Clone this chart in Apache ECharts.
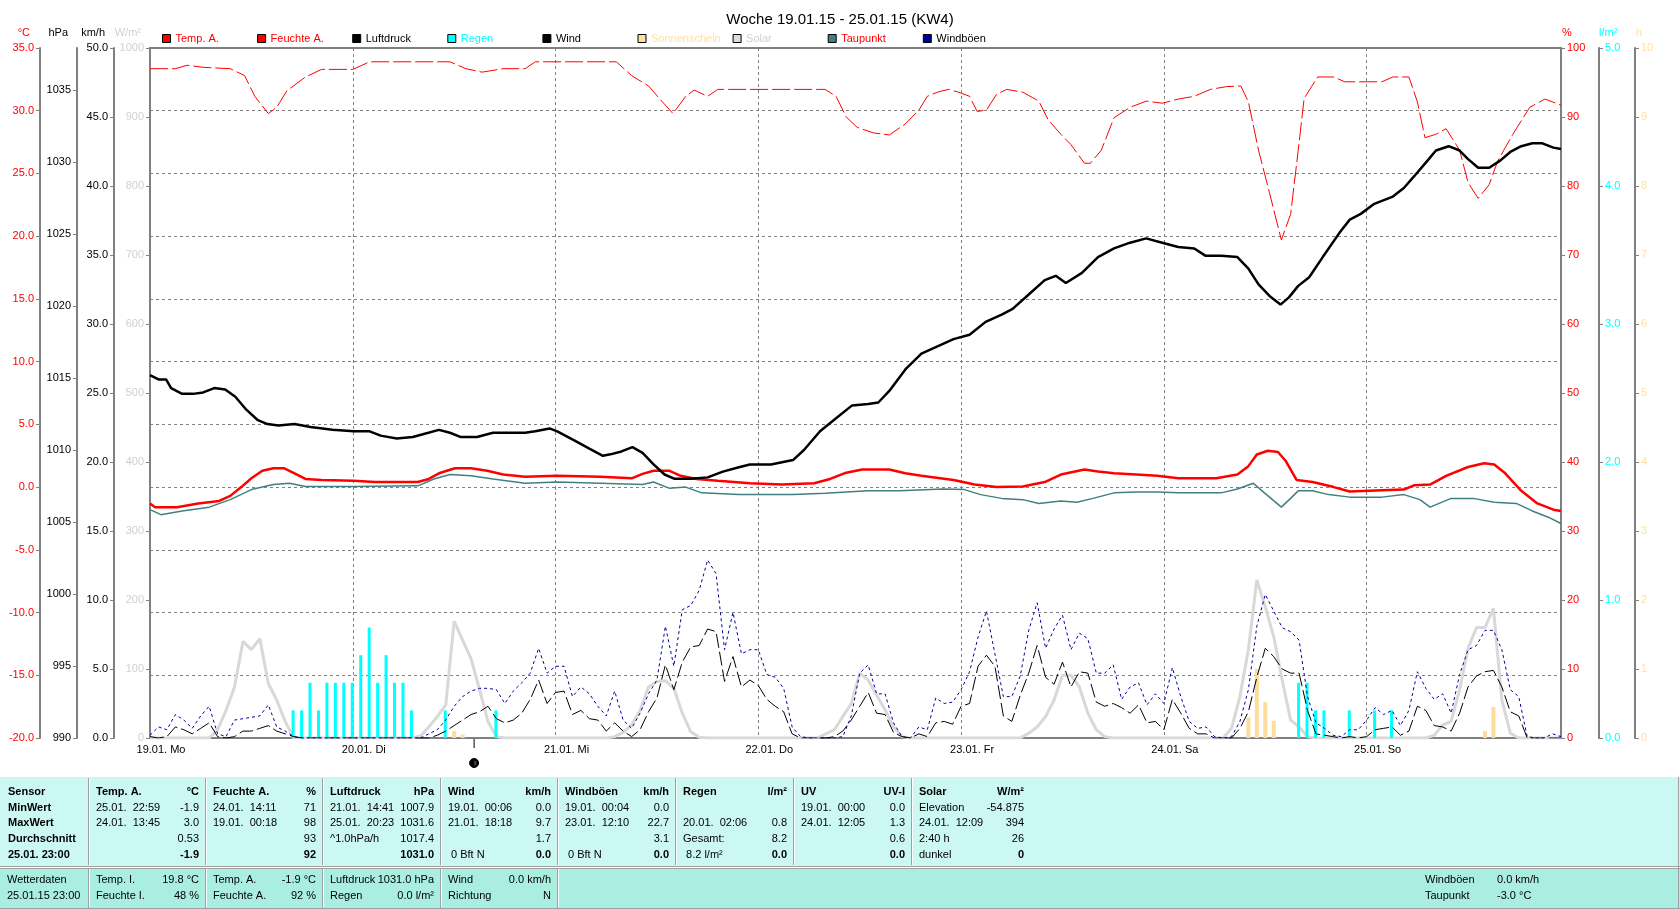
<!DOCTYPE html>
<html>
<head>
<meta charset="utf-8">
<script src="https://cdn.jsdelivr.net/npm/echarts@6/dist/echarts.min.js"></script>
<style>
  html, body { margin: 0; padding: 0; background: #fff; }
  #chart { width: 1680px; height: 909px; }
</style>
</head>
<body>
<div id="chart"></div>
<script>
// hours are counted from 19.01. 00:00
const dayLabels = ['19.01. Mo', '20.01. Di', '21.01. Mi', '22.01. Do', '23.01. Fr', '24.01. Sa', '25.01. So'];
const dayHours = [0, 24, 48, 72, 96, 120, 144];

const tempA = [[0,-1.3],[0.6,-1.6],[3.2,-1.6],[5.7,-1.3],[8.2,-1.1],[9.5,-0.7],[10.8,0.0],[12,0.7],[13.3,1.3],[14.6,1.5],[15.9,1.5],[17.1,1.1],[18.4,0.65],[20.3,0.57],[24.1,0.5],[26.6,0.4],[31.7,0.4],[33,0.65],[34.2,1.1],[36.1,1.5],[38,1.5],[39.9,1.3],[41.8,1.0],[44.4,0.82],[48.2,0.9],[53.3,0.82],[57,0.7],[58.3,1.05],[59.6,1.3],[61.5,1.3],[62.8,0.9],[64.7,0.65],[67.2,0.5],[71,0.3],[74.8,0.2],[78.6,0.3],[80.5,0.65],[82.4,1.15],[84.3,1.4],[87.5,1.4],[89.4,1.1],[91.3,0.9],[95.1,0.57],[97.6,0.2],[100.2,0.0],[103.3,0.05],[105.9,0.4],[107.8,1.0],[110.6,1.4],[112.2,1.25],[114.1,1.1],[116.7,1.0],[119.2,0.9],[121.7,0.7],[126.2,0.7],[128.7,1.0],[130,1.67],[131,2.6],[132.3,2.9],[133.5,2.8],[134.4,2.1],[135.7,0.57],[137.6,0.4],[140.1,0.0],[142,-0.35],[145.8,-0.26],[148.4,-0.2],[149.6,0.14],[151.5,0.2],[153.4,0.9],[156,1.6],[157.9,1.9],[159.1,1.8],[160.4,1.1],[162.3,-0.3],[164.2,-1.3],[166.1,-1.8],[167,-1.9]];

const humidity = [[0,97],[3,97],[4.4,97.5],[6.3,97.2],[9.5,97],[11.2,96],[12.4,93],[14,90.5],[15,91.4],[16.2,93.8],[18.4,95.8],[20.3,96.9],[24,96.9],[26,98],[35.5,98],[37.4,97],[39.3,96.5],[41.8,97],[44.4,97],[45.6,98],[55.2,98],[57,96],[59,94.5],[60.2,92.8],[61.9,90.5],[63.4,93],[64.4,93.9],[66,93],[67.2,94],[69.7,94],[79.9,94],[81.2,93],[82.4,90],[83.7,88.5],[85.6,87.7],[87.5,87.4],[89.4,89],[91,91],[92,93],[93.2,93.6],[94.5,94],[95.7,93.6],[97,93],[97.9,90.8],[99,91],[100.2,93.3],[101.4,94],[103.3,93.6],[105.2,92.3],[106.3,89.6],[107.8,87.5],[109,86],[110.6,83.3],[111.3,83.3],[112.6,85.2],[114.1,89.9],[116,91.4],[117.9,92.3],[119.8,92],[121.7,92.6],[123.6,93],[125.5,94],[127.4,94.4],[129.1,94.5],[130,92.2],[131.2,85.2],[132.5,79],[133.9,72.2],[135,75.9],[135.9,85.2],[136.6,92.7],[138.2,95.8],[140.1,95.8],[141.4,95.1],[145.8,95.1],[147.1,95.8],[149,95.8],[150,92.2],[150.9,87],[152.2,87.5],[153.4,88.3],[155,85.2],[156,80.5],[157.2,78.2],[158.5,80.2],[159.5,83.6],[161.3,87.5],[163.3,91.4],[165.1,92.6],[166.4,92],[167,91.7]];

const pressure = [[0,1015.2],[1,1014.9],[1.9,1014.9],[2.5,1014.3],[3.8,1013.9],[5.1,1013.9],[6.3,1014.0],[7.6,1014.3],[8.9,1014.2],[10.1,1013.7],[11.4,1012.8],[12.7,1012.1],[13.9,1011.8],[15.2,1011.7],[17.1,1011.8],[19,1011.6],[21.6,1011.4],[24.1,1011.3],[26,1011.3],[27.3,1011.0],[29.2,1010.8],[31.1,1010.9],[32.3,1011.1],[34.2,1011.4],[35.5,1011.2],[36.8,1010.9],[38.7,1010.9],[40.6,1011.2],[42.5,1011.2],[44.4,1011.2],[45.6,1011.3],[47.3,1011.5],[48.2,1011.3],[50.1,1010.7],[52,1010.1],[53.6,1009.6],[54.5,1009.7],[55.8,1009.9],[57.1,1010.2],[58.3,1009.8],[59.6,1009.0],[60.9,1008.3],[62.1,1008.0],[64,1008.0],[66,1008.1],[67.8,1008.5],[69.7,1008.8],[71,1009.0],[73.5,1009.0],[76.1,1009.3],[77.4,1010.0],[79.3,1011.3],[81.2,1012.2],[83.1,1013.1],[85,1013.2],[86.2,1013.3],[87.5,1014.1],[89.4,1015.6],[91.3,1016.7],[93.2,1017.2],[95.1,1017.7],[97,1018.0],[98.9,1018.9],[100.8,1019.4],[102.1,1019.8],[104,1020.8],[105.9,1021.8],[107.2,1022.1],[108.4,1021.6],[110.3,1022.3],[112.2,1023.4],[114.1,1024.0],[116,1024.4],[117.9,1024.7],[119.8,1024.4],[121.7,1024.1],[123.6,1024.0],[124.9,1023.5],[126.8,1023.5],[128.7,1023.4],[130,1022.6],[131.2,1021.5],[132.5,1020.7],[133.8,1020.1],[134.8,1020.6],[135.9,1021.4],[137.2,1022.0],[138.8,1023.4],[140.8,1025.1],[142,1026.0],[143.3,1026.4],[144.9,1027.1],[147.1,1027.6],[148.4,1028.2],[149.6,1029.0],[151.2,1030.1],[152.2,1030.8],[153.7,1031.1],[155,1030.8],[156,1030.2],[157.2,1029.6],[158.5,1029.6],[159.8,1030.1],[161,1030.7],[162.3,1031.1],[163.6,1031.3],[164.8,1031.3],[166.1,1031.0],[167,1030.9]];

const dewPoint = [[0,-1.8],[1.3,-2.2],[3.8,-1.9],[7,-1.6],[9.5,-1.0],[12,-0.2],[14.6,0.2],[16.5,0.3],[18.4,0.05],[24.1,0.05],[31.7,0.1],[33.6,0.65],[35.5,1.0],[38,0.9],[40.6,0.65],[44.4,0.3],[48.2,0.4],[53.3,0.3],[58.3,0.2],[59.6,0.4],[61.5,-0.1],[63.4,0.0],[65.3,-0.46],[69.7,-0.6],[76.1,-0.6],[79.9,-0.5],[85,-0.3],[88.8,-0.3],[93.8,-0.15],[96.4,-0.2],[98.3,-0.6],[100.8,-0.9],[103.3,-1.0],[105.2,-1.3],[107.8,-1.1],[109.7,-1.2],[111.6,-0.9],[114.1,-0.46],[116.7,-0.4],[119.2,-0.4],[121.7,-0.46],[126.8,-0.46],[128.7,-0.15],[130.6,0.3],[131.9,-0.46],[133.9,-1.6],[135,-0.9],[135.9,-0.3],[137.6,-0.3],[139.5,-0.6],[142,-0.8],[145.8,-0.8],[148.4,-0.6],[150.3,-1.0],[151.5,-1.6],[154,-0.9],[156.6,-0.9],[159.1,-1.2],[161.7,-1.3],[163.6,-1.9],[165.5,-2.4],[167,-2.9]];

// hourly values, index = hour
const windHourly = [
  0.1,0.0,0.1,0.8,0.6,0.3,0.7,1.1,0.1,0.0,0.1,0.5,0.5,0.7,0.9,0.5,0.3,0.1,0,0,0,0,0,0,
  0,0,0,0,0,0,0,0,0,0,0.2,0.5,0.9,1.3,1.7,1.9,2.3,1.4,1.1,1.3,1.8,2.8,4.2,2.5,
  3.3,3.4,1.7,2.0,1.4,1.3,0.5,1.1,0.5,0.1,0.6,1.9,2.9,5.3,3.5,5.5,6.6,6.7,7.9,7.7,4.1,5.9,3.7,4.2,
  3.8,2.8,2.3,1.9,0.3,0,0,0,0,0.1,0.5,1.3,2.3,3.3,1.8,1.7,0.4,0.1,0,0.3,0.1,1.1,1.2,1.0,
  2.3,2.5,5.2,6.0,5.2,1.6,1.2,3.1,4.7,6.7,4.4,3.9,5.5,3.7,4.8,4.7,2.6,2.3,2.5,2.2,1.8,2.4,1.1,1.2,
  0.6,2.8,1.8,0.7,0.3,0.3,0,0,0,0.7,1.9,4.4,6.5,5.9,5.0,4.7,4.7,2.0,0.3,0.2,0.1,0,0.1,0,
  0.1,0.6,0.7,0.8,0.2,0.5,2.3,2.0,0.9,0.8,0.5,1.8,3.7,4.5,4.8,4.9,3.7,1.9,1.6,0,0,0,0,0
];
const gustHourly = [
  0.2,0.8,0.6,1.7,1.3,0.7,1.6,2.3,0.3,0.1,1.3,1.4,1.5,1.6,2.4,0.8,0.5,0.1,0,0,0,0,0,0,
  0,0,0,0,0,0,0,0,0,0.3,0.6,1.3,2.3,3.0,3.4,3.6,3.6,3.5,2.5,3.4,4.0,4.7,6.5,4.7,
  5.2,5.2,3.0,3.7,3.2,2.3,1.6,3.4,1.3,0.7,1.8,3.2,4.2,8.1,5.2,9.3,9.6,10.7,12.9,11.9,6.4,9.1,6.1,6.4,
  6.4,4.6,4.4,3.6,0.8,0.1,0,0,0,0,0.1,1.6,4.7,5.3,3.2,3.2,1.1,0.1,0,0.8,0.6,2.9,2.5,2.6,
  3.5,4.8,7.3,9.2,6.1,3.0,3.0,4.5,7.8,9.8,6.5,7.9,8.9,6.4,7.6,7.2,4.7,4.7,5.3,2.8,3.7,4.0,2.4,3.2,
  2.5,5.1,3.0,1.2,0.7,0.8,0.1,0,0.1,1.2,3.5,8.1,10.4,9.2,8.0,7.7,7.1,3.0,1.1,0.7,0.2,0.1,0.6,0.6,
  1.3,2.2,1.7,2.0,0.9,2.0,4.8,3.6,2.8,3.2,1.8,4.6,6.4,6.7,7.8,7.8,6.4,3.5,3.0,0.1,0,0,0.3,0.1
];
const solarHourly = [
  0,0,0,0,0,0,0,0,12,40,74,140,128,144,79,55,24,0,0,0,0,0,0,0,
  0,0,0,0,0,0,0,0,3,16,31,48,169,142,115,70,24,2,0,0,0,0,0,0,
  0,0,0,0,0,0,0,2,8,19,40,74,82,83,72,36,9,1,0,0,0,0,0,0,
  0,0,0,0,0,0,0,0,6,12,31,50,94,84,62,41,16,2,0,0,0,0,0,0,
  0,0,0,0,0,0,0,0,7,16,31,55,91,91,74,36,12,2,0,0,0,0,0,0,
  0,0,0,0,0,0,0,0,14,60,128,229,190,147,84,26,16,2,0,0,0,0,0,0,
  0,0,0,0,0,0,0,0,4,19,24,70,130,160,160,188,55,7,0,0,0,0,0,0
];
const rain = [[17,0.2],[18,0.2],[19,0.4],[20,0.2],[21,0.4],[22,0.4],[23,0.4],[24,0.4],[25,0.6],[26,0.8],[27,0.4],[28,0.6],[29,0.4],[30,0.4],[31,0.2],[35,0.2],[41,0.2],[136,0.4],[137,0.4],[138,0.2],[139,0.2],[142,0.2],[145,0.2],[147,0.2]];
const sunshine = [[36,0.1],[37,0.05],[130,0.3],[131,1.0],[132,0.52],[133,0.25],[158,0.1],[159,0.45]];
const moonHour = 38.3;

const legendNames = ['Temp. A.', 'Feuchte A.', 'Luftdruck', 'Regen', 'Wind', 'Sonnenschein', 'Solar', 'Taupunkt', 'Windböen'];
const legendTextColors = ['#ff0000', '#ff0000', '#000000', '#00ffff', '#000000', '#ffe0a0', '#d0d0d0', '#ff0000', '#000000'];
const legendBoxColors = ['#ff0000', '#ff0000', '#000000', '#00ffff', '#000000', '#ffe0a0', '#dcdcdc', '#408080', '#0000a0'];

// table texts
const sensorRows = ['Sensor', 'MinWert', 'MaxWert', 'Durchschnitt', '25.01. 23:00'];
const tableBlocks = [
  { head: 'Temp. A.', unit: '°C', rows: [['25.01.  22:59', '-1.9'], ['24.01.  13:45', '3.0'], ['', '0.53'], ['', '-1.9']] },
  { head: 'Feuchte A.', unit: '%', rows: [['24.01.  14:11', '71'], ['19.01.  00:18', '98'], ['', '93'], ['', '92']] },
  { head: 'Luftdruck', unit: 'hPa', rows: [['21.01.  14:41', '1007.9'], ['25.01.  20:23', '1031.6'], ['^1.0hPa/h', '1017.4'], ['', '1031.0']] },
  { head: 'Wind', unit: 'km/h', rows: [['19.01.  00:06', '0.0'], ['21.01.  18:18', '9.7'], ['', '1.7'], [' 0 Bft N', '0.0']] },
  { head: 'Windböen', unit: 'km/h', rows: [['19.01.  00:04', '0.0'], ['23.01.  12:10', '22.7'], ['', '3.1'], [' 0 Bft N', '0.0']] },
  { head: 'Regen', unit: 'l/m²', rows: [['', ''], ['20.01.  02:06', '0.8'], ['Gesamt:', '8.2'], [' 8.2 l/m²', '0.0']] },
  { head: 'UV', unit: 'UV-I', rows: [['19.01.  00:00', '0.0'], ['24.01.  12:05', '1.3'], ['', '0.6'], ['', '0.0']] },
  { head: 'Solar', unit: 'W/m²', rows: [['Elevation', '-54.875'], ['24.01.  12:09', '394'], ['2:40 h', '26'], ['dunkel', '0']] }
];
const currentCells = [
  [['Wetterdaten', ''], ['25.01.15 23:00', '']],
  [['Temp. I.', '19.8 °C'], ['Feuchte I.', '48 %']],
  [['Temp. A.', '-1.9 °C'], ['Feuchte A.', '92 %']],
  [['Luftdruck', '1031.0 hPa'], ['Regen', '0.0 l/m²']],
  [['Wind', '0.0 km/h'], ['Richtung', 'N']]
];
const currentExtra = [['Windböen', '0.0 km/h'], ['Taupunkt', '-3.0 °C']];

const FONT = '"Liberation Sans", Arial, sans-serif';
const GRAY = '#808080';

window.addEventListener('load', function () {
  const chart = echarts.init(document.getElementById('chart'), null, { renderer: 'canvas' });

  const hourly = arr => arr.map((v, i) => [i, v]);

  function yAxis(o) {
    return {
      type: 'value',
      position: o.pos,
      offset: o.offset,
      min: o.min, max: o.max, interval: o.interval,
      axisLine: { show: o.line !== false, onZero: false, lineStyle: { color: GRAY, width: 2 } },
      axisTick: { show: true, length: 4, lineStyle: { color: GRAY }, customValues: o.custom },
      axisLabel: {
        color: o.color, fontFamily: FONT, fontSize: 11, margin: 6,
        formatter: o.fmt || (v => String(v)), customValues: o.custom
      },
      splitLine: o.split ? { show: true, lineStyle: { color: GRAY, type: [3, 3], width: 1 } } : { show: false }
    };
  }
  const fix1 = v => v.toFixed(1);
  const hpaTicks = [];
  for (let v = 990; v <= 1035; v += 5) hpaTicks.push(v);

  const legends = legendNames.map((n, i) => ({
    left: 162 + i * 95.1,
    top: 33,
    itemWidth: 8,
    itemHeight: 8,
    itemGap: 0,
    icon: 'rect',
    selectedMode: false,
    padding: 0,
    textStyle: { fontFamily: FONT, fontSize: 11, color: legendTextColors[i], padding: [0, 0, 0, 0] },
    data: [{ name: n, icon: 'rect', itemStyle: { color: legendBoxColors[i], borderColor: '#000', borderWidth: 1, borderType: 'solid' }, lineStyle: { width: 0 } }]
  }));

  const line = (name, data, y, color, width, type, z) => ({
    name, type: 'line', data, yAxisIndex: y, showSymbol: false, symbol: 'none',
    lineStyle: { color, width, type }, itemStyle: { color }, z, animation: false
  });

  const option = {
    animation: false,
    title: {
      text: 'Woche 19.01.15 - 25.01.15 (KW4)',
      left: 'center', top: 7,
      textStyle: { fontFamily: FONT, fontSize: 15, fontWeight: 'normal', color: '#000' }
    },
    legend: legends,
    grid: { left: 150, top: 48, width: 1411, height: 690, show: true, borderColor: GRAY, borderWidth: 2, backgroundColor: '#fff' },
    xAxis: {
      type: 'value', min: 0, max: 167, interval: 24,
      axisLine: { show: false },
      axisTick: { show: true, length: 3, lineStyle: { color: GRAY }, customValues: dayHours },
      axisLabel: {
        customValues: dayHours, margin: 6, fontFamily: FONT, fontSize: 11, color: '#000',
        formatter: v => '{d|' + dayLabels[dayHours.indexOf(v)] + '}',
        rich: { d: { fontFamily: FONT, fontSize: 11, color: '#000', padding: [0, 0, 0, 22] } }
      },
      splitLine: { show: true, lineStyle: { color: GRAY, type: [3, 3], width: 1 } }
    },
    yAxis: [
      yAxis({ pos: 'left', offset: 110, min: -20, max: 35, interval: 5, color: '#ff0000', fmt: fix1, split: true }),
      yAxis({ pos: 'left', offset: 73, min: 990, max: 1037.92, interval: 5, color: '#000', custom: hpaTicks }),
      yAxis({ pos: 'left', offset: 36, min: 0, max: 50, interval: 5, color: '#000', fmt: fix1 }),
      yAxis({ pos: 'left', offset: 0, min: 0, max: 1000, interval: 100, color: '#d0d0d0', line: false }),
      yAxis({ pos: 'right', offset: 0, min: 0, max: 100, interval: 10, color: '#ff0000', line: false }),
      yAxis({ pos: 'right', offset: 38, min: 0, max: 5, interval: 1, color: '#00ffff', fmt: fix1 }),
      yAxis({ pos: 'right', offset: 74, min: 0, max: 10, interval: 1, color: '#ffe0a0' })
    ],
    series: [
      line('Temp. A.', tempA, 0, '#ff0000', 2.5, 'solid', 9),
      line('Feuchte A.', humidity, 4, '#ff0000', 1, [18, 4], 7),
      line('Luftdruck', pressure, 1, '#000000', 2.5, 'solid', 9),
      { name: 'Regen', type: 'bar', data: rain, yAxisIndex: 5, barWidth: 3, barGap: '-100%', itemStyle: { color: '#00ffff' }, z: 4 },
      line('Wind', hourly(windHourly), 2, '#000000', 1, [14, 4], 6),
      { name: 'Sonnenschein', type: 'bar', data: sunshine, yAxisIndex: 6, barWidth: 4, barGap: '-100%', itemStyle: { color: '#fddc9c' }, z: 4 },
      line('Solar', hourly(solarHourly), 3, '#d8d8d8', 3, 'solid', 3),
      line('Taupunkt', dewPoint, 0, '#408080', 1.5, 'solid', 8),
      line('Windböen', hourly(gustHourly), 2, '#0000a0', 1, [3, 3], 5)
    ]
  };
  chart.setOption(option);

  // unit headers, table and moon marker
  const g = [];
  const txt = (x, y, text, color, align, bold, size) => g.push({
    type: 'text', x, y, silent: true,
    style: { text, fill: color || '#000', textAlign: align || 'left', textVerticalAlign: 'middle',
      font: (bold ? 'bold ' : '') + (size || 11) + 'px ' + FONT }
  });
  const ln = (x1, y1, x2, y2, color) => g.push({
    type: 'line', silent: true, shape: { x1, y1, x2, y2 }, style: { stroke: color, lineWidth: 1 }
  });

  txt(30, 33, '°C', '#ff0000', 'right');
  txt(68, 33, 'hPa', '#000', 'right');
  txt(105, 33, 'km/h', '#000', 'right');
  txt(141, 33, 'W/m²', '#d0d0d0', 'right');
  txt(1562, 33, '%', '#ff0000', 'left');
  txt(1599, 33, 'l/m²', '#00ffff', 'left');
  txt(1636, 33, 'h', '#ffe0a0', 'left');

  const mx = chart.convertToPixel({ xAxisIndex: 0 }, moonHour);
  ln(mx + 0.5, 739, mx + 0.5, 748, '#000');
  g.push({ type: 'circle', silent: true, shape: { cx: mx + 0.5, cy: 763, r: 4.5 }, style: { fill: '#000', stroke: '#000' } });
  g.push({ type: 'sector', silent: true, shape: { cx: mx + 0.5, cy: 763, r: 2.5, startAngle: -Math.PI / 2, endAngle: Math.PI / 2 }, style: { fill: '#404040' } });

  // upper table
  const upTop = 777, upBot = 866, loTop = 868, loBot = 908;
  const edges = [0, 88, 205, 322, 440, 557, 675, 793, 911, 1030];
  g.push({ type: 'rect', silent: true, shape: { x: 0, y: upTop, width: 1680, height: upBot - upTop }, style: { fill: '#ccf8f4' } });
  g.push({ type: 'rect', silent: true, shape: { x: 0, y: loTop, width: 1680, height: loBot - loTop }, style: { fill: '#aaeee2' } });
  for (let i = 1; i <= 8; i++) {
    ln(edges[i] + 0.5, upTop + 1, edges[i] + 0.5, upBot - 1, '#a0a0a0');
    ln(edges[i] + 1.5, upTop + 1, edges[i] + 1.5, upBot - 1, '#ffffff');
  }
  ln(0, upBot + 0.5, 1680, upBot + 0.5, '#a0a0a0');
  ln(0, loTop + 0.5, 1680, loTop + 0.5, '#a0a0a0');
  ln(0, loBot + 0.5, 1680, loBot + 0.5, '#a0a0a0');
  ln(1678.5, upTop, 1678.5, loBot, '#a0a0a0');
  [88, 205, 322, 440, 557].forEach(x => {
    ln(x + 0.5, loTop, x + 0.5, loBot, '#a0a0a0');
    ln(x + 1.5, loTop + 1, x + 1.5, loBot - 1, '#ffffff');
  });

  const rowY = [792, 807.7, 823.4, 839.1, 854.8];
  sensorRows.forEach((s, r) => txt(8, rowY[r], s, '#000', 'left', true));
  tableBlocks.forEach((b, i) => {
    const lx = edges[i + 1] + 8, rx = edges[i + 2] - 6;
    txt(lx, rowY[0], b.head, '#000', 'left', true);
    txt(rx, rowY[0], b.unit, '#000', 'right', true);
    b.rows.forEach((row, r) => {
      const last = r === 3;
      if (row[0]) txt(lx, rowY[r + 1], row[0], '#000', 'left', false);
      if (row[1]) txt(rx, rowY[r + 1], row[1], '#000', 'right', last);
    });
  });

  const loY = [880, 895.5];
  const cellEdges = [0, 88, 205, 322, 440, 557];
  currentCells.forEach((cell, i) => {
    const lx = cellEdges[i] + (i === 0 ? 7 : 8), rx = cellEdges[i + 1] - 6;
    cell.forEach((row, r) => {
      if (row[0]) txt(lx, loY[r], row[0], '#000', 'left');
      if (row[1]) txt(rx, loY[r], row[1], '#000', 'right');
    });
  });
  currentExtra.forEach((row, r) => {
    txt(1425, loY[r], row[0], '#000', 'left');
    txt(1497, loY[r], row[1], '#000', 'left');
  });

  chart.setOption({ graphic: { elements: g } });
});
</script>
</body>
</html>
